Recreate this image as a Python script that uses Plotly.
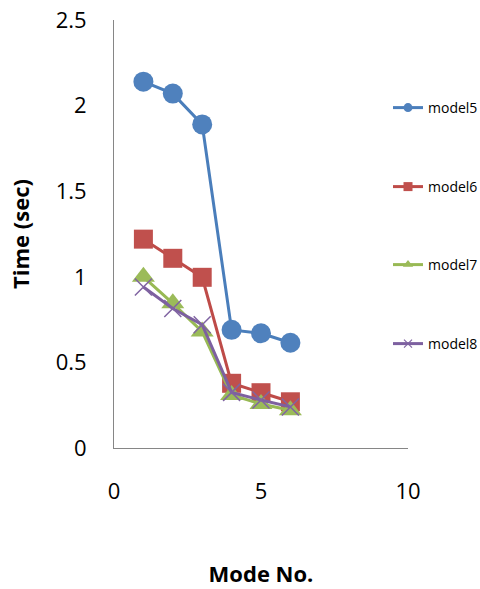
import plotly.graph_objects as go

modes = [1, 2, 3, 4, 5, 6]
model5 = [2.14, 2.07, 1.89, 0.69, 0.67, 0.615]
model6 = [1.22, 1.108, 0.997, 0.378, 0.323, 0.27]
model7 = [1.0, 0.845, 0.68, 0.31, 0.257, 0.22]
model8 = [0.94, 0.815, 0.72, 0.325, 0.28, 0.24]
names = ["model5", "model6", "model7", "model8"]
series = [model5, model6, model7, model8]

line_colors = ["#4A7EBB", "#BE4B48", "#98B954", "#7D60A0"]
marker_colors = ["#4F81BD", "#C0504D", "#9BBB59", "#8064A2"]
symbols = ["circle", "square", "triangle-up", "x-thin"]
sizes = [20, 19, 20, 17]
legend_sizes = [9, 9, 9, 8]

fig = go.Figure()
for i, (nm, ys) in enumerate(zip(names, series)):
    mk = dict(symbol=symbols[i], size=sizes[i], color=marker_colors[i])
    if symbols[i] == "x-thin":
        mk["line"] = dict(width=1.5, color=marker_colors[i])
    fig.add_trace(go.Scatter(
        x=modes, y=ys, mode="lines+markers", name=nm, showlegend=False,
        line=dict(color=line_colors[i], width=3), marker=mk))

legend_ids = ["legend", "legend2", "legend3", "legend4"]
for i, nm in enumerate(names):
    mk = dict(symbol=symbols[i], size=legend_sizes[i], color=marker_colors[i])
    if symbols[i] == "x-thin":
        mk["line"] = dict(width=1.2, color=marker_colors[i])
    fig.add_trace(go.Scatter(
        x=[None], y=[None], mode="lines+markers", name=nm, showlegend=True,
        legend=legend_ids[i],
        line=dict(color=line_colors[i], width=3), marker=mk))

legend_y = [108, 187, 265, 344]
H = 589
top, bottom = 20, 141
ph = H - top - bottom
legend_common = dict(xref="paper", yref="paper", x=0.932, xanchor="left",
                     yanchor="middle", bgcolor="rgba(0,0,0,0)",
                     font=dict(family="Open Sans", size=14, color="#000000"))
lay = {}
for lid, py in zip(legend_ids, legend_y):
    d = dict(legend_common)
    d["y"] = (H - bottom - py) / ph
    lay[lid] = d

fig.update_layout(
    width=480, height=589,
    margin=dict(l=114, r=72, t=top, b=bottom, autoexpand=False),
    paper_bgcolor="white", plot_bgcolor="white",
    font=dict(family="Open Sans", color="#000000"),
    xaxis=dict(range=[0, 10], tickvals=[0, 5, 10], showgrid=False, zeroline=False,
               showline=True, linecolor="#868686", linewidth=1,
               ticks="outside", ticklen=24, tickcolor="rgba(0,0,0,0)",
               tickfont=dict(size=22), automargin=False,
               title=dict(text="<b>Mode No.</b>", font=dict(size=22), standoff=62)),
    yaxis=dict(range=[0, 2.5], tickvals=[0, 0.5, 1, 1.5, 2, 2.5],
               ticktext=["0", "0.5", "1", "1.5", "2", "2.5"],
               showgrid=False, zeroline=False, automargin=False,
               showline=True, linecolor="#868686", linewidth=1,
               ticks="outside", ticklen=22, tickcolor="rgba(0,0,0,0)",
               tickfont=dict(size=22),
               title=dict(text="<b>Time (sec)</b>", font=dict(size=22), standoff=19)),
    **lay,
)

fig.write_html("out.html")
